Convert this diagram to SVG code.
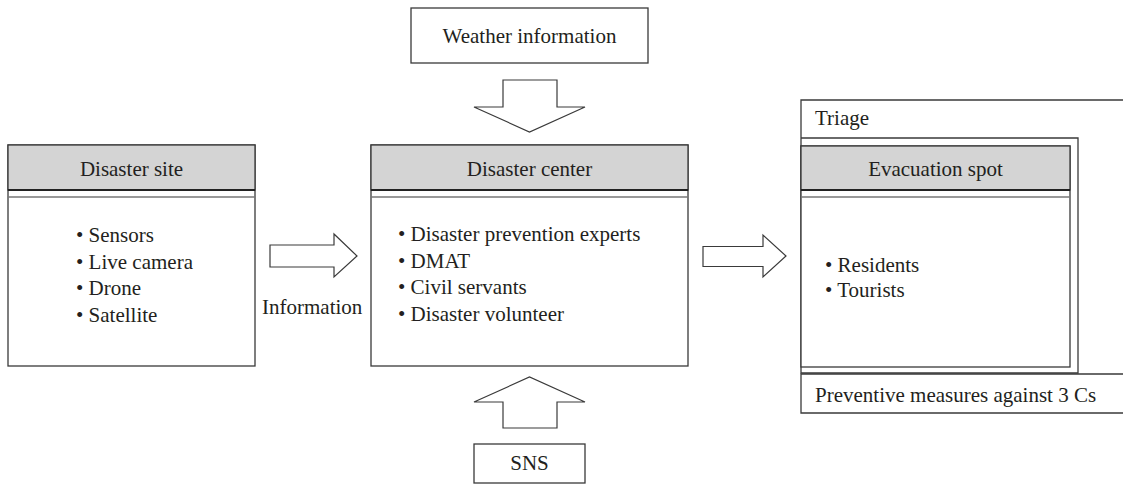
<svg xmlns="http://www.w3.org/2000/svg" width="1123" height="484" viewBox="0 0 1123 484">
<style>
text{font-family:"Liberation Serif","Times New Roman",serif;font-size:21px;fill:#231f20}
.c{text-anchor:middle}
.box{fill:#fff;stroke:#3a3a3a;stroke-width:1.3}
.hdr{fill:#d4d4d4;stroke:#3a3a3a;stroke-width:1.3}
.sep{stroke:#222;stroke-width:2}
.sep2{stroke:#777;stroke-width:1.5}
.arr{fill:#fff;stroke:#3a3a3a;stroke-width:1.2;stroke-linejoin:miter}
.frame{fill:none;stroke:#3a3a3a;stroke-width:1.3}
</style>
<rect width="1123" height="484" fill="#fff"/>

<g id="weather">
<rect class="box" x="411" y="8" width="237" height="55"/>
<text class="c" x="529.5" y="43">Weather information</text>
</g>

<g id="site">
<rect class="box" x="8" y="145" width="247" height="221"/>
<rect class="hdr" x="8" y="145" width="247" height="45"/>
<line class="sep" x1="8" y1="190" x2="255" y2="190"/>
<line class="sep2" x1="8" y1="197" x2="255" y2="197"/>
<text class="c" x="131.5" y="176">Disaster site</text>
<text x="76" y="242">• Sensors</text>
<text x="76" y="268.5">• Live camera</text>
<text x="76" y="295">• Drone</text>
<text x="76" y="321.5">• Satellite</text>
</g>

<g id="center">
<rect class="box" x="371" y="145" width="317" height="221"/>
<rect class="hdr" x="371" y="145" width="317" height="45"/>
<line class="sep" x1="371" y1="190" x2="688" y2="190"/>
<line class="sep2" x1="371" y1="197" x2="688" y2="197"/>
<text class="c" x="529.5" y="176">Disaster center</text>
<text x="398" y="241">• Disaster prevention experts</text>
<text x="398" y="267.5">• DMAT</text>
<text x="398" y="294">• Civil servants</text>
<text x="398" y="320.5">• Disaster volunteer</text>
</g>

<g id="triage">
<path class="frame" d="M1123,100 H801 V373 H1078 V138 H801"/>
<text x="815" y="125">Triage</text>
</g>

<g id="evacuation">
<rect class="box" x="801" y="146" width="269" height="221"/>
<rect class="hdr" x="801" y="146" width="269" height="44"/>
<line class="sep" x1="801" y1="190" x2="1070" y2="190"/>
<line class="sep2" x1="801" y1="197" x2="1070" y2="197"/>
<text class="c" x="935.5" y="176">Evacuation spot</text>
<text x="825" y="272">• Residents</text>
<text x="825" y="297">• Tourists</text>
</g>

<g id="preventive">
<path class="frame" d="M1123,374 H801 V413 H1123"/>
<text x="815" y="402">Preventive measures against 3 Cs</text>
</g>

<g id="sns">
<rect class="box" x="474" y="444" width="111" height="39"/>
<text class="c" x="529.5" y="470">SNS</text>
</g>

<g id="connectors">
<polygon class="arr" points="503,80 557,80 557,107 585,107 529.5,132 474,107 503,107"/>
<polygon class="arr" points="270,245 334,245 334,234 357,256 334,277 334,267 270,267"/>
<polygon class="arr" points="703,246.5 763,246.5 763,235 786,256 763,277 763,266.5 703,266.5"/>
<polygon class="arr" points="503,428 557,428 557,402 585,402 529.5,377 474,402 503,402"/>
<text x="262" y="314">Information</text>
</g>
</svg>
